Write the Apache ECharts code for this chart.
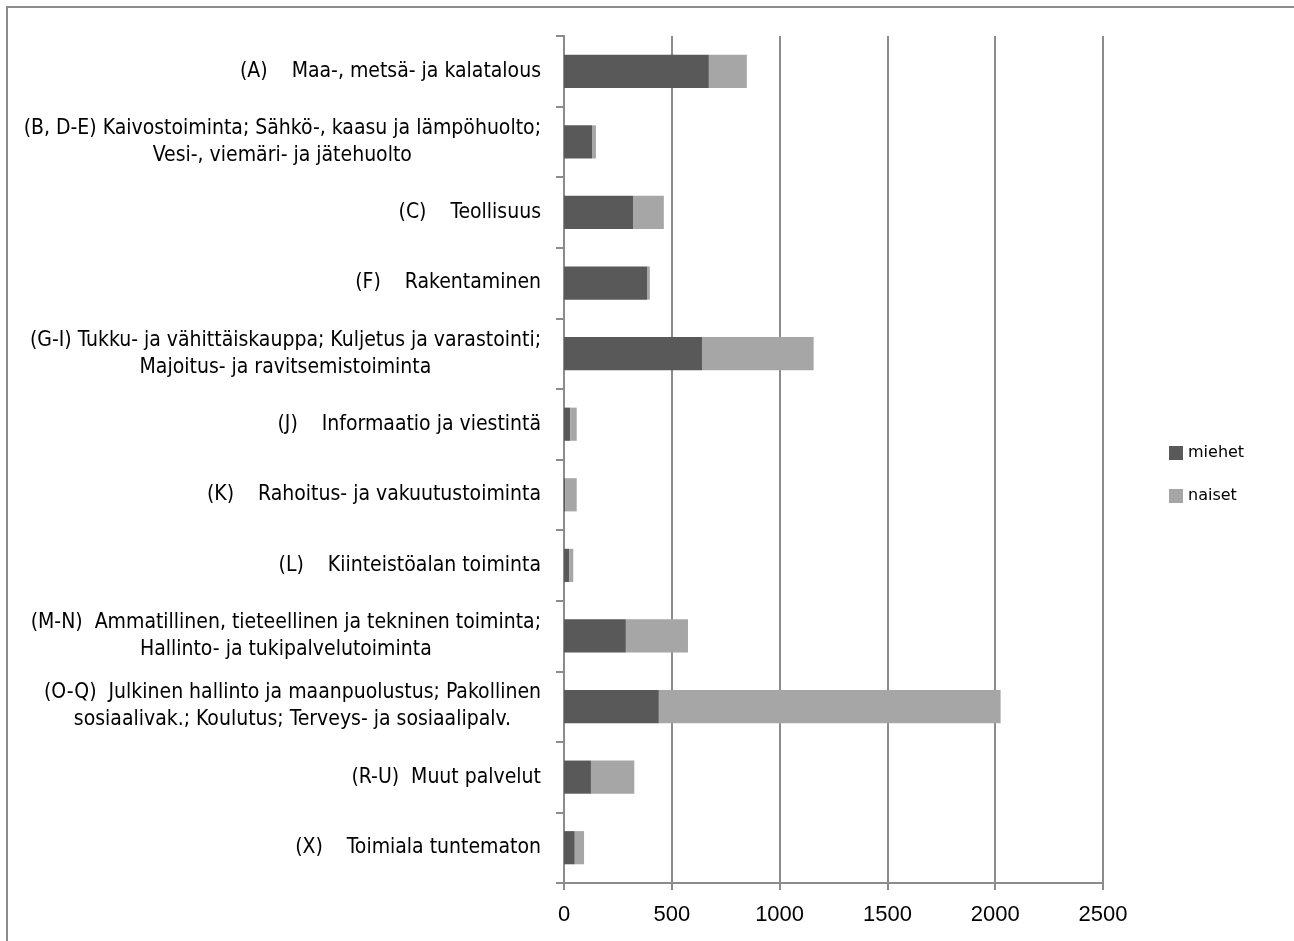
<!DOCTYPE html>
<html>
<head>
<meta charset="utf-8">
<script src="https://cdn.jsdelivr.net/npm/echarts@6/dist/echarts.min.js"></script>
<style>
html,body{margin:0;padding:0;background:#fff;}
#chart{width:1294px;height:941px;}
</style>
</head>
<body>
<div id="chart"></div>
<script>
const categories = [
  "(A)    Maa-, metsä- ja kalatalous",
  "(B, D-E) Kaivostoiminta; Sähkö-, kaasu ja lämpöhuolto;\nVesi-, viemäri- ja jätehuolto",
  "(C)    Teollisuus",
  "(F)    Rakentaminen",
  "(G-I) Tukku- ja vähittäiskauppa; Kuljetus ja varastointi;\nMajoitus- ja ravitsemistoiminta",
  "(J)    Informaatio ja viestintä",
  "(K)    Rahoitus- ja vakuutustoiminta",
  "(L)    Kiinteistöalan toiminta",
  "(M-N)  Ammatillinen, tieteellinen ja tekninen toiminta;\nHallinto- ja tukipalvelutoiminta",
  "(O-Q)  Julkinen hallinto ja maanpuolustus; Pakollinen\nsosiaalivak.; Koulutus; Terveys- ja sosiaalipalv.",
  "(R-U)  Muut palvelut",
  "(X)    Toimiala tuntematon"
];
const miehet = [672, 130, 320, 385, 640, 29, 5, 25, 287, 440, 125, 50];
const naiset = [176, 18, 143, 13, 518, 30, 54, 18, 288, 1585, 201, 43];
const seriesNames = ["miehet", "naiset"];
const xTicks = { min: 0, max: 2500, interval: 500 };

const chart = echarts.init(document.getElementById('chart'), null, {renderer: 'canvas'});
const labelFont = '"Liberation Sans Narrow", "DejaVu Sans Condensed", sans-serif';
chart.setOption({
  animation: false,
  backgroundColor: '#fff',
  grid: { left: 564, right: 191, top: 36, bottom: 58, containLabel: false },
  legend: {
    orient: 'vertical',
    left: 1164, top: 440,
    itemWidth: 14, itemHeight: 14, itemGap: 27,
    icon: 'rect',
    data: seriesNames,
    textStyle: { fontFamily: '"DejaVu Sans", sans-serif', fontSize: 16, color: '#000' }
  },
  xAxis: {
    type: 'value',
    min: xTicks.min, max: xTicks.max, interval: xTicks.interval,
    axisLine: { show: true, lineStyle: { color: '#8c8c8c', width: 2 } },
    axisTick: { show: true, length: 7, lineStyle: { color: '#8c8c8c', width: 2 } },
    axisLabel: {
      fontFamily: '"Liberation Sans", sans-serif', fontSize: 22, color: '#000', margin: 21,
      formatter: function (v) { return String(v); }
    },
    splitLine: { show: true, lineStyle: { color: '#8c8c8c', width: 2 } }
  },
  yAxis: {
    type: 'category',
    inverse: true,
    data: categories,
    axisLine: { show: true, lineStyle: { color: '#8c8c8c', width: 2 } },
    axisTick: { show: true, length: 8, lineStyle: { color: '#8c8c8c', width: 2 } },
    axisLabel: {
      margin: 23,
      align: 'right',
      color: '#000',
      formatter: function (v) {
        return v.split('\n').map(function (s) { return '{c|' + s + '}'; }).join('\n');
      },
      rich: {
        c: { align: 'center', fontFamily: labelFont, fontSize: 21, lineHeight: 27, color: '#000' }
      }
    }
  },
  series: [
    {
      name: seriesNames[0], type: 'bar', stack: 'total', data: miehet,
      barWidth: '47%',
      itemStyle: { color: '#595959' }
    },
    {
      name: seriesNames[1], type: 'bar', stack: 'total', data: naiset,
      barWidth: '47%',
      itemStyle: { color: '#a6a6a6' }
    }
  ],
  graphic: [
    {
      type: 'rect',
      shape: { x: 7, y: 7, width: 1300, height: 1000 },
      style: { fill: 'none', stroke: '#8c8c8c', lineWidth: 2 },
      silent: true
    }
  ]
});
</script>
</body>
</html>
